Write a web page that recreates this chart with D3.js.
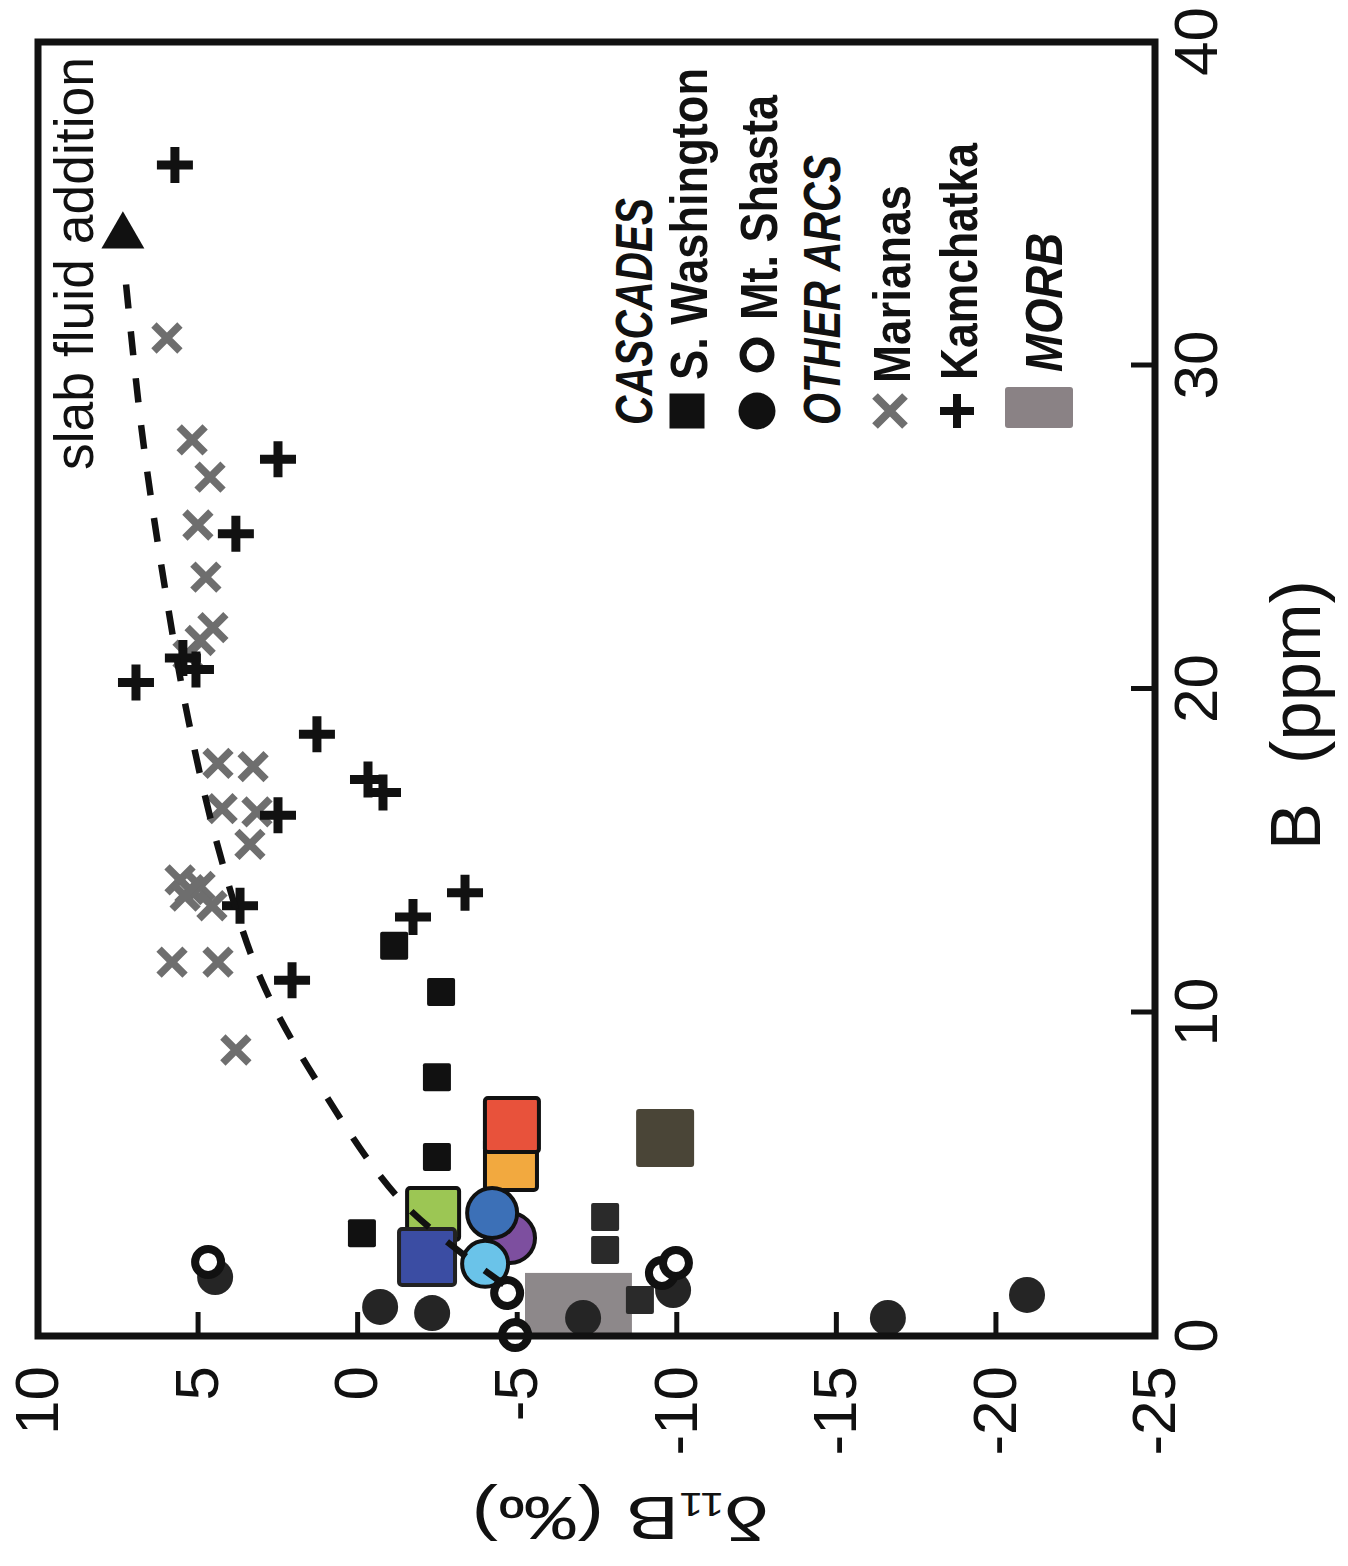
<!DOCTYPE html>
<html>
<head>
<meta charset="utf-8">
<script src="https://cdn.jsdelivr.net/npm/d3@7"></script>
<style>
body { margin: 0; background: #fff; }
text { font-family: "Liberation Sans", Arial, sans-serif; }
</style>
</head>
<body>
<div class="chart"></div>
<script>
var svgWidth = 1348;
var svgHeight = 1566;

// size of the plot frame in the chart's own (un-rotated) coordinates
var width = 1294;
var height = 1117;

// axis ticks
var bTicks = [0, 10, 20, 30, 40];
var dTicks = [10, 5, 0, -5, -10, -15, -20, -25];

// every point is [B (ppm), d11B (per mil)]
var kamchatka = [[36.2, 5.71], [27.1, 2.48], [24.8, 3.80], [20.2, 6.93], [20.96, 5.46],
    [20.6, 5.05], [18.6, 1.26], [17.2, -0.34], [16.8, -0.81], [16.1, 2.48],
    [13.3, 3.67], [13.7, -3.38], [12.95, -1.75], [11.0, 2.04]];

var marianas = [[30.85, 5.96], [27.7, 5.17], [26.55, 4.61], [25.07, 4.99], [23.46, 4.74],
    [21.9, 4.52], [21.5, 4.92], [21.05, 5.30], [17.7, 4.36], [17.6, 3.26],
    [16.3, 4.23], [16.2, 3.14], [15.2, 3.36], [14.1, 5.55], [13.8, 5.24],
    [13.9, 4.92], [13.6, 5.39], [13.3, 4.55], [11.56, 5.80], [11.56, 4.36], [8.84, 3.80]];

var sWashington = [[3.18, -0.15], [12.06, -1.16], [10.63, -2.63], [8.0, -2.50],
    [5.53, -2.50], [3.68, -7.77], [2.66, -7.77], [1.11, -8.86]];

var shastaFilled = [[0.90, -0.72], [0.71, -2.35], [0.56, -7.08], [1.42, -9.9],
    [0.56, -16.63], [1.27, -20.99], [1.82, 4.45]];

var shastaOpen = [[0.03, -4.95], [1.33, -4.70], [1.95, -9.55], [2.26, -9.99], [2.29, 4.67]];

// larger coloured samples
var bigSquares = [[6.12, -9.65], [5.32, -4.82], [6.52, -4.85], [3.77, -2.38], [2.44, -2.19]];
var bigCircles = [[3.03, -4.79], [3.80, -4.23], [2.23, -4.01]];

// MORB field
var morbB = [0, 1.95];
var morbD = [-5.26, -8.61];

// slab fluid addition trend
var slabCurve = [[1.6, -4.6], [4.1, -1.45], [7.7, 1.15], [11.0, 3.0], [14.9, 4.3],
    [19.1, 5.3], [23.6, 6.1], [28.0, 6.75], [32.6, 7.25]];
var arrowTip = [34.0, 7.34];

var legendNames = ["CASCADES", "S. Washington", "Mt. Shasta", "OTHER ARCS", "Marianas", "Kamchatka", "MORB"];

// styles for the coloured samples
var bigSquareStyle = [
    { fill: "#4a4537", stroke: "none", size: 58 },
    { fill: "#f2a93f", stroke: "#111", size: 52 },
    { fill: "#e8523b", stroke: "#111", size: 54 },
    { fill: "#9cc654", stroke: "#111", size: 52 },
    { fill: "#3b4da3", stroke: "#222", size: 56 }
];
var bigCircleStyle = [
    { fill: "#7d4f9f", r: 25 },
    { fill: "#3c70b7", r: 25 },
    { fill: "#6ac3e9", r: 23 }
];

var svg = d3.select(".chart")
    .append("svg")
    .attr("width", svgWidth)
    .attr("height", svgHeight);

svg.append("rect").attr("width", svgWidth).attr("height", svgHeight).attr("fill", "#fff");

// the figure is printed turned a quarter turn, so draw it normally and rotate the group
var chartGroup = svg.append("g")
    .attr("transform", "translate(38, 1336) rotate(-90)");

var xScale = d3.scaleLinear().domain([0, 40]).range([0, width]);
var yScale = d3.scaleLinear().domain([10, -25]).range([0, height]);

var bottomAxis = d3.axisBottom(xScale)
    .tickValues(bTicks)
    .tickSize(-24)
    .tickPadding(18)
    .tickFormat(d => String(d));

var leftAxis = d3.axisLeft(yScale)
    .tickValues(dTicks)
    .tickSize(-24)
    .tickPadding(30)
    .tickFormat(d => String(d));

var xAxis = chartGroup.append("g")
    .attr("transform", `translate(0, ${height})`)
    .call(bottomAxis);

var yAxis = chartGroup.append("g")
    .call(leftAxis);

[xAxis, yAxis].forEach(function (ax) {
    ax.select(".domain").remove();
    ax.selectAll(".tick line").attr("stroke", "#111").attr("stroke-width", 5);
    ax.selectAll(".tick text")
        .attr("fill", "#111")
        .style("font-family", "'Liberation Sans', Arial, sans-serif")
        .style("font-size", "62px");
});

// MORB field
chartGroup.append("rect")
    .attr("x", xScale(morbB[0]))
    .attr("y", yScale(morbD[0]))
    .attr("width", xScale(morbB[1]) - xScale(morbB[0]))
    .attr("height", yScale(morbD[1]) - yScale(morbD[0]))
    .attr("fill", "#8d888a");

// Mt. Shasta, filled
chartGroup.selectAll(".shasta-filled")
    .data(shastaFilled)
    .enter()
    .append("circle")
    .attr("cx", d => xScale(d[0]))
    .attr("cy", d => yScale(d[1]))
    .attr("r", 18)
    .attr("fill", "#252525");

// S. Washington
chartGroup.selectAll(".swash")
    .data(sWashington)
    .enter()
    .append("rect")
    .attr("x", d => xScale(d[0]) - 14)
    .attr("y", d => yScale(d[1]) - 14)
    .attr("width", 28)
    .attr("height", 28)
    .attr("rx", 2)
    .attr("fill", d => d[1] < -7 ? "#2a2a2a" : "#111");

// Marianas
chartGroup.selectAll(".marianas")
    .data(marianas)
    .enter()
    .append("path")
    .attr("transform", d => `translate(${xScale(d[0])}, ${yScale(d[1])})`)
    .attr("d", "M-13,-13L13,13M-13,13L13,-13")
    .attr("stroke", "#6e6e6e")
    .attr("stroke-width", 7.5)
    .attr("fill", "none");

// Kamchatka
chartGroup.selectAll(".kamchatka")
    .data(kamchatka)
    .enter()
    .append("path")
    .attr("transform", d => `translate(${xScale(d[0])}, ${yScale(d[1])})`)
    .attr("d", "M-18,0H18M0,-18V18")
    .attr("stroke", "#111")
    .attr("stroke-width", 9)
    .attr("fill", "none");

// coloured samples
chartGroup.selectAll(".bigsq")
    .data(bigSquares)
    .enter()
    .append("rect")
    .attr("x", (d, i) => xScale(d[0]) - bigSquareStyle[i].size / 2)
    .attr("y", (d, i) => yScale(d[1]) - bigSquareStyle[i].size / 2)
    .attr("width", (d, i) => bigSquareStyle[i].size)
    .attr("height", (d, i) => bigSquareStyle[i].size)
    .attr("rx", 3)
    .attr("fill", (d, i) => bigSquareStyle[i].fill)
    .attr("stroke", (d, i) => bigSquareStyle[i].stroke)
    .attr("stroke-width", 4);

chartGroup.selectAll(".bigci")
    .data(bigCircles)
    .enter()
    .append("circle")
    .attr("cx", d => xScale(d[0]))
    .attr("cy", d => yScale(d[1]))
    .attr("r", (d, i) => bigCircleStyle[i].r)
    .attr("fill", (d, i) => bigCircleStyle[i].fill)
    .attr("stroke", "#111")
    .attr("stroke-width", 4);

// Mt. Shasta, open
chartGroup.selectAll(".shasta-open")
    .data(shastaOpen)
    .enter()
    .append("circle")
    .attr("cx", d => xScale(d[0]))
    .attr("cy", d => yScale(d[1]))
    .attr("r", 13)
    .attr("fill", "#fff")
    .attr("stroke", "#111")
    .attr("stroke-width", 8);

// slab fluid addition trend line and arrow
var line = d3.line()
    .x(d => xScale(d[0]))
    .y(d => yScale(d[1]))
    .curve(d3.curveCatmullRom);

chartGroup.append("path")
    .datum(slabCurve)
    .attr("d", line)
    .attr("fill", "none")
    .attr("stroke", "#111")
    .attr("stroke-width", 6.5)
    .attr("stroke-dasharray", "24,23");

chartGroup.append("path")
    .attr("transform", `translate(${xScale(arrowTip[0])}, ${yScale(arrowTip[1])}) rotate(90)`)
    .attr("d", d3.symbol().type(d3.symbolTriangle).size(800))
    .attr("fill", "#111");

chartGroup.append("text")
    .attr("x", 866)
    .attr("y", 55)
    .attr("textLength", 413)
    .attr("lengthAdjust", "spacingAndGlyphs")
    .style("font-size", "56px")
    .attr("fill", "#111")
    .text("slab fluid addition");

// frame
chartGroup.append("rect")
    .attr("width", width)
    .attr("height", height)
    .attr("fill", "none")
    .attr("stroke", "#111")
    .attr("stroke-width", 7);

// axis titles
chartGroup.append("text")
    .attr("x", 621)
    .attr("y", height + 165)
    .attr("text-anchor", "middle")
    .attr("textLength", 270)
    .attr("lengthAdjust", "spacingAndGlyphs")
    .style("font-size", "70px")
    .attr("fill", "#111")
    .text("B\u00a0\u00a0(ppm)");

var yTitle = chartGroup.append("text")
    .attr("transform", "translate(-161, 582) rotate(-90)")
    .attr("text-anchor", "middle")
    .attr("textLength", 297)
    .attr("lengthAdjust", "spacingAndGlyphs")
    .style("font-size", "62px")
    .attr("fill", "#111");
yTitle.append("tspan").text("\u03b4");
yTitle.append("tspan").attr("dy", "0.12em").style("font-size", "34px").text("11");
yTitle.append("tspan").attr("dy", "-0.07em").text("B (\u2030)");

// legend (layout in chart coordinates)
var legendLayout = [
    { base: 614, start: 911, len: 227, header: true },
    { base: 669, start: 956, len: 312, sym: "square" },
    { base: 739, start: 1016, len: 225, sym: "circles" },
    { base: 802, start: 911, len: 270, header: true },
    { base: 872, start: 953, len: 198, sym: "cross" },
    { base: 939, start: 956, len: 237, sym: "plus" },
    { base: 1024, start: 964, len: 139, sym: "box", header: true }
];

var legendGroup = chartGroup.append("g");

legendNames.forEach(function (name, i) {
    var L = legendLayout[i];
    var cy = L.base - 20;
    legendGroup.append("text")
        .attr("x", L.start)
        .attr("y", L.base)
        .attr("textLength", L.len)
        .attr("lengthAdjust", "spacingAndGlyphs")
        .style("font-size", "52px")
        .style("font-weight", "bold")
        .style("font-style", L.header ? "italic" : "normal")
        .attr("fill", "#111")
        .text(name);

    if (L.sym === "square") {
        legendGroup.append("rect")
            .attr("x", 925 - 17.5).attr("y", cy - 17.5)
            .attr("width", 35).attr("height", 35)
            .attr("fill", "#111");
    } else if (L.sym === "circles") {
        legendGroup.append("circle").attr("cx", 925).attr("cy", cy).attr("r", 18.5).attr("fill", "#111");
        legendGroup.append("circle").attr("cx", 981).attr("cy", cy).attr("r", 14)
            .attr("fill", "#fff").attr("stroke", "#111").attr("stroke-width", 7);
    } else if (L.sym === "cross") {
        legendGroup.append("path")
            .attr("transform", `translate(925, ${cy})`)
            .attr("d", "M-15,-15L15,15M-15,15L15,-15")
            .attr("stroke", "#6e6e6e").attr("stroke-width", 8).attr("fill", "none");
    } else if (L.sym === "plus") {
        legendGroup.append("path")
            .attr("transform", `translate(925, ${cy})`)
            .attr("d", "M-17,0H17M0,-17V17")
            .attr("stroke", "#111").attr("stroke-width", 8).attr("fill", "none");
    } else if (L.sym === "box") {
        legendGroup.append("rect")
            .attr("x", 908).attr("y", 967)
            .attr("width", 41).attr("height", 68)
            .attr("rx", 3)
            .attr("fill", "#8a8285");
    }
});
</script>
</body>
</html>
